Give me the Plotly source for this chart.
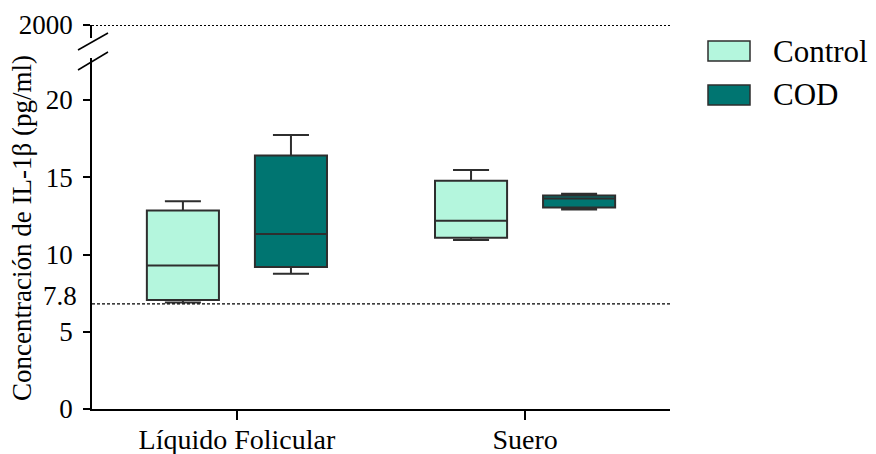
import plotly.graph_objects as go

# ---- data ----
categories = ["Líquido Folicular", "Suero"]
series_names = ["Control", "COD"]
control_q1 = [7.05, 11.09]
control_median = [9.28, 12.19]
control_q3 = [12.84, 14.78]
control_low = [6.90, 10.94]
control_high = [13.44, 15.47]
cod_q1 = [9.19, 13.05]
cod_median = [11.33, 13.63]
cod_q3 = [16.40, 13.82]
cod_low = [8.76, 12.92]
cod_high = [17.73, 13.94]
lower_ticks = [0, 5, 10, 15, 20]
upper_ticks = [2000]
upper_tick_labels = ["2000"]
ref_line_value = 6.8
ref_line_label = "7.8"
top_line_value = 2000
y_title = "Concentración de IL-1β (pg/ml)"

# ---- styling ----
FONT = "Liberation Serif, Times New Roman, serif"
control_color = "#B4F6DD"
cod_color = "#007571"
edge_color = "#2E2E2E"

W, H = 876, 454
ML, MR, MT, MB = 92, 206, 25, 45
PW, PH = W - ML - MR, H - MT - MB


def px_x(p):
    return (p - ML) / PW


def px_y(p):
    return (H - MB - p) / PH


lower_top_px = 58
upper_bottom_px = 38
px_per_unit = 15.45
lower_range_top = (H - MB - lower_top_px) / px_per_unit

fig = go.Figure()
for name, q1, med, q3, lo, hi, col in [
    (series_names[0], control_q1, control_median, control_q3, control_low, control_high, control_color),
    (series_names[1], cod_q1, cod_median, cod_q3, cod_low, cod_high, cod_color),
]:
    fig.add_trace(go.Box(
        name=name, x=categories, q1=q1, median=med, q3=q3,
        lowerfence=lo, upperfence=hi,
        fillcolor=col, line=dict(color=edge_color, width=2),
        whiskerwidth=0.5, showlegend=False, boxpoints=False,
        xaxis="x", yaxis="y",
    ))

fig.update_layout(
    width=W, height=H,
    margin=dict(l=ML, r=MR, t=MT, b=MB, autoexpand=False),
    paper_bgcolor="white", plot_bgcolor="white",
    boxmode="group", boxgap=0.25, boxgroupgap=0.333,
    font=dict(family=FONT, color="black", size=27),
    xaxis=dict(
        type="category", range=[-0.503, 1.503], anchor="y", automargin=False,
        showline=True, linecolor="black", linewidth=1.5,
        ticks="outside", ticklen=9, tickwidth=1.5, tickcolor="black",
        showgrid=False, zeroline=False, ticklabelstandoff=-4,
        tickfont=dict(family=FONT, size=28, color="black"),
    ),
    yaxis=dict(
        domain=[0, px_y(lower_top_px)], range=[0, lower_range_top], automargin=False,
        tickvals=lower_ticks, showline=True, linecolor="black", linewidth=1.5,
        ticks="outside", ticklen=7, tickwidth=1.5, tickcolor="black",
        showgrid=False, zeroline=False, ticklabelstandoff=5,
        tickfont=dict(family=FONT, size=27, color="black"),
    ),
    yaxis2=dict(
        domain=[px_y(upper_bottom_px), 1], range=[top_line_value - 13, top_line_value],
        tickvals=upper_ticks, ticktext=upper_tick_labels, anchor="x", automargin=False,
        showline=True, linecolor="black", linewidth=1.5,
        ticks="outside", ticklen=7, tickwidth=1.5, tickcolor="black",
        showgrid=False, zeroline=False, ticklabelstandoff=5,
        tickfont=dict(family=FONT, size=27, color="black"),
    ),
)

# reference lines
fig.add_shape(type="line", xref="paper", yref="y", x0=0, x1=1,
              y0=ref_line_value, y1=ref_line_value,
              line=dict(color="black", width=1.3, dash="3px,2px"))
fig.add_shape(type="line", xref="paper", yref="y2", x0=0, x1=1,
              y0=top_line_value, y1=top_line_value,
              line=dict(color="black", width=1.8, dash="2px,2px"))
fig.add_annotation(xref="paper", yref="y", x=px_x(79), y=ref_line_value + 0.5,
                   text=ref_line_label, showarrow=False, xanchor="right", yanchor="middle",
                   font=dict(family=FONT, size=27, color="black"))

# axis break marks
for (x0, y0, x1, y1) in [(78, 50, 108, 33), (78, 70, 108, 52)]:
    fig.add_shape(type="line", xref="paper", yref="paper",
                  x0=px_x(x0), y0=px_y(y0), x1=px_x(x1), y1=px_y(y1),
                  line=dict(color="black", width=1.5))

# y title
fig.add_annotation(xref="paper", yref="paper", x=px_x(22), y=px_y(228),
                   text=y_title, textangle=-90, showarrow=False,
                   xanchor="center", yanchor="middle",
                   font=dict(family=FONT, size=27, color="black"))

# legend (custom, large swatches)
for i, (name, col) in enumerate([(series_names[0], control_color), (series_names[1], cod_color)]):
    top = 41 + i * 44
    fig.add_shape(type="rect", xref="paper", yref="paper",
                  x0=px_x(708), x1=px_x(750), y0=px_y(top + 20), y1=px_y(top),
                  fillcolor=col, line=dict(color=edge_color, width=1.5))
    fig.add_annotation(xref="paper", yref="paper", x=px_x(771), y=px_y(top + 10),
                       text=name, showarrow=False, xanchor="left", yanchor="middle",
                       font=dict(family=FONT, size=31, color="black"))

fig.write_html(
    "out.html",
    config={"displayModeBar": False},
    post_script="document.body.style.margin='0';document.body.style.padding='0';",
)
